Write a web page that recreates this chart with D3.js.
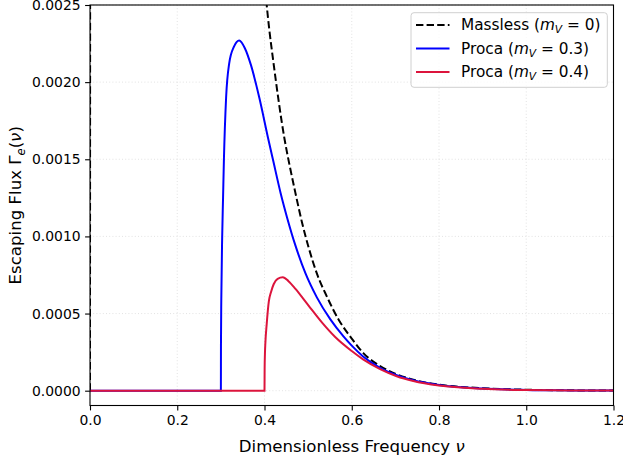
<!DOCTYPE html>
<html>
<head>
<meta charset="utf-8">
<script src="https://cdn.jsdelivr.net/npm/d3@7"></script>
<style>
  body { margin: 0; background: #fff; }
  text { font-family: "DejaVu Sans", sans-serif; fill: #000; }
</style>
</head>
<body>
<div class="container"></div>
<script>
// values
var freqMassless = [0, 0.002, 0.3, 0.35, 0.38, 0.405, 0.411, 0.419, 0.446, 0.459, 0.471, 0.486, 0.501, 0.52, 0.543, 0.57, 0.6, 0.626, 0.665, 0.703, 0.741, 0.8, 0.9, 1.0, 1.1, 1.2];
var fluxMassless = [0, 0.012, 0.0085, 0.0047, 0.0033, 0.0025, 0.00234, 0.00216, 0.00163, 0.00144, 0.00128, 0.00109, 0.00093, 0.00076, 0.00061, 0.00046, 0.000338, 0.000245, 0.00016, 0.000106, 0.000071, 0.000039, 0.000016, 0.0000062, 0.0000024, 0.0000009];

var freqProca03 = [0, 0.3, 0.3002, 0.301, 0.303, 0.305, 0.307, 0.312, 0.319, 0.33, 0.342, 0.355, 0.369, 0.388, 0.408, 0.42, 0.437, 0.452, 0.471, 0.494, 0.52, 0.551, 0.581, 0.6, 0.626, 0.665, 0.703, 0.741, 0.8, 0.9, 1.0, 1.1, 1.2];
var fluxProca03 = [0, 0, 0.0003, 0.0006, 0.001, 0.00125, 0.0015, 0.0019, 0.00212, 0.00223, 0.00227, 0.00222, 0.00211, 0.0019, 0.00164, 0.00149, 0.00128, 0.00112, 0.00094, 0.00076, 0.000605, 0.000462, 0.000352, 0.000292, 0.000222, 0.000148, 0.000101, 0.000068, 0.000037, 0.000014, 0.000005, 0.0000018, 0.0000006];

var freqProca04 = [0, 0.4, 0.4003, 0.401, 0.402, 0.405, 0.41, 0.415, 0.421, 0.43, 0.442, 0.455, 0.471, 0.49, 0.501, 0.532, 0.562, 0.6, 0.626, 0.665, 0.703, 0.741, 0.8, 0.9, 1.0, 1.1, 1.2];
var fluxProca04 = [0, 0, 0.00014, 0.00024, 0.00031, 0.00043, 0.00058, 0.00064, 0.00069, 0.000725, 0.000735, 0.00071, 0.00066, 0.000592, 0.000552, 0.000441, 0.000348, 0.000257, 0.000203, 0.00014, 0.000094, 0.000063, 0.000033, 0.000012, 0.0000043, 0.0000015, 0.0000005];

var xTicks = [0, 0.2, 0.4, 0.6, 0.8, 1.0, 1.2];
var yTicks = [0, 0.0005, 0.001, 0.0015, 0.002, 0.0025];

var seriesNames = ["Massless", "Proca", "Proca"];
var seriesMass = ["0", "0.3", "0.4"];

var svgWidth = 623;
var svgHeight = 460;
var margin = { top: 5, right: 9.5, bottom: 54.5, left: 90 };
var width = svgWidth - margin.left - margin.right;
var height = svgHeight - margin.top - margin.bottom;

var svg = d3.select(".container")
  .append("svg")
  .attr("width", svgWidth)
  .attr("height", svgHeight);

var chartGroup = svg.append("g")
  .attr("transform", `translate(${margin.left}, ${margin.top})`);

var xScale = d3.scaleLinear().domain([0, 1.2]).range([0, width]);
var yScale = d3.scaleLinear().domain([-0.000096, 0.0025]).range([height, 0]);

// dotted grid
chartGroup.append("g")
  .selectAll("line.gx")
  .data(xTicks)
  .enter()
  .append("line")
  .attr("x1", d => xScale(d)).attr("x2", d => xScale(d))
  .attr("y1", 0).attr("y2", height)
  .attr("stroke", "#dcdcdc").attr("stroke-width", 0.8)
  .attr("stroke-dasharray", "1,2.2");
chartGroup.append("g")
  .selectAll("line.gy")
  .data(yTicks)
  .enter()
  .append("line")
  .attr("x1", 0).attr("x2", width)
  .attr("y1", d => yScale(d)).attr("y2", d => yScale(d))
  .attr("stroke", "#dcdcdc").attr("stroke-width", 0.8)
  .attr("stroke-dasharray", "1,2.2");

// clip lines to the plot area
svg.append("defs").append("clipPath").attr("id", "plotClip")
  .append("rect").attr("width", width).attr("height", height);

var line = d3.line()
  .x(d => xScale(d[0]))
  .y(d => yScale(d[1]))
  .curve(d3.curveMonotoneX);

function pairs(xs, ys) {
  return xs.map((x, i) => [x, ys[i]]);
}

var series = [
  { data: pairs(freqMassless, fluxMassless), color: "#000000", dash: "7.4,3.2" },
  { data: pairs(freqProca03, fluxProca03), color: "#0000ff", dash: null },
  { data: pairs(freqProca04, fluxProca04), color: "#dc143c", dash: null }
];

var linesGroup = chartGroup.append("g").attr("clip-path", "url(#plotClip)");
series.forEach(function(s) {
  linesGroup.append("path")
    .datum(s.data)
    .attr("d", line)
    .attr("fill", "none")
    .attr("stroke", s.color)
    .attr("stroke-width", 2)
    .attr("stroke-dasharray", s.dash);
});

// axes
var bottomAxis = d3.axisBottom(xScale).tickValues(xTicks).tickFormat(d3.format(".1f"))
  .tickSize(4.9).tickPadding(4.5);
var leftAxis = d3.axisLeft(yScale).tickValues(yTicks).tickFormat(d3.format(".4f"))
  .tickSize(4.9).tickPadding(4.5);

var xAxis = chartGroup.append("g")
  .attr("transform", `translate(0, ${height})`)
  .call(bottomAxis);
var yAxis = chartGroup.append("g").call(leftAxis);

[xAxis, yAxis].forEach(function(ax) {
  ax.select(".domain").remove();
  ax.selectAll(".tick line").attr("stroke", "#000").attr("stroke-width", 1.1);
  ax.selectAll(".tick text")
    .style("font-family", "DejaVu Sans")
    .style("font-size", "13.9px")
    .attr("fill", "#000");
});

// frame
chartGroup.append("rect")
  .attr("width", width).attr("height", height)
  .attr("fill", "none").attr("stroke", "#000").attr("stroke-width", 1.1);

// axis labels
var xLabel = svg.append("text")
  .attr("x", margin.left + width / 2)
  .attr("y", 452)
  .attr("text-anchor", "middle")
  .style("font-size", "16.6px");
xLabel.append("tspan").text("Dimensionless Frequency ");
xLabel.append("tspan").attr("font-style", "italic").text("\u03bd");

var yLabel = svg.append("text")
  .attr("transform", `translate(21, ${margin.top + height / 2}) rotate(-90)`)
  .attr("text-anchor", "middle")
  .style("font-size", "16.6px");
yLabel.append("tspan").text("Escaping Flux \u0393");
yLabel.append("tspan").attr("font-style", "italic").attr("font-size", "11.6px").attr("dy", 3.5).text("e");
yLabel.append("tspan").attr("dy", -3.5).text("(");
yLabel.append("tspan").attr("font-style", "italic").text("\u03bd");
yLabel.append("tspan").text(")");

// legend
var legend = svg.append("g");
legend.append("rect")
  .attr("x", 411).attr("y", 12.7)
  .attr("width", 196.3).attr("height", 74.6)
  .attr("rx", 3)
  .attr("fill", "#fff").attr("fill-opacity", 0.8)
  .attr("stroke", "#d0d0d0").attr("stroke-width", 1);

var rowY = [25, 48.5, 72];
series.forEach(function(s, i) {
  legend.append("line")
    .attr("x1", 416).attr("x2", 449.5)
    .attr("y1", rowY[i]).attr("y2", rowY[i])
    .attr("stroke", s.color).attr("stroke-width", 2)
    .attr("stroke-dasharray", s.dash);
  var t = legend.append("text")
    .attr("x", 461).attr("y", rowY[i] + 5.4)
    .style("font-size", "15.3px");
  t.append("tspan").text(seriesNames[i] + " (");
  t.append("tspan").attr("font-style", "italic").text("m");
  t.append("tspan").attr("font-style", "italic").attr("font-size", "10.7px").attr("dy", 3).text("V");
  t.append("tspan").attr("dy", -3).text(" = " + seriesMass[i] + ")");
});
</script>
</body>
</html>
